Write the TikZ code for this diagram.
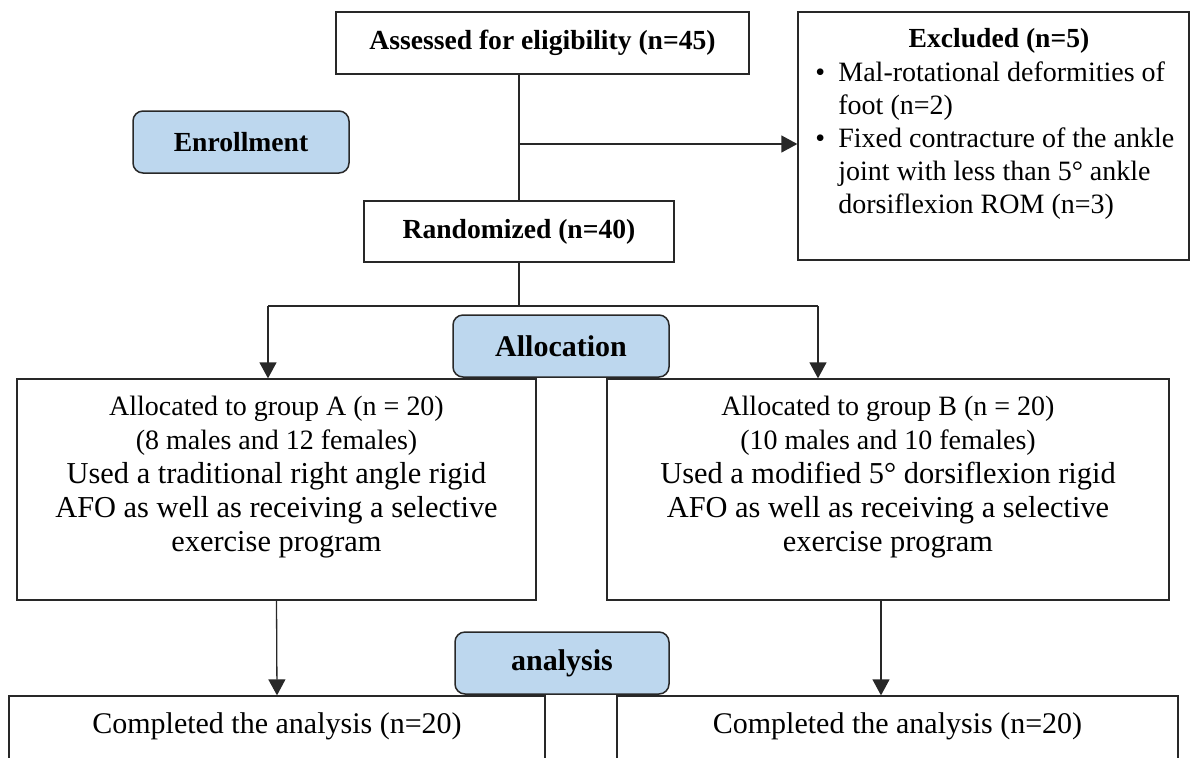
\documentclass[tikz,border=0pt]{standalone}
\usepackage{fontspec}
\setmainfont{Liberation Serif}
\usetikzlibrary{arrows.meta}
\definecolor{phaseblue}{RGB}{189,215,238}
\definecolor{edgegray}{RGB}{40,40,40}
\newcommand{\bigln}{\fontsize{15.2}{17}\selectfont}
\begin{document}
\begin{tikzpicture}[x=0.5pt,y=-0.5pt,
  box/.style={draw=edgegray,line width=0.65pt,inner sep=0pt},
  phase/.style={draw=edgegray,fill=phaseblue,rounded corners=5pt,line width=0.75pt,inner sep=0pt,font=\fontsize{15}{18}\selectfont\bfseries},
  hdr/.style={font=\fontsize{13.8}{17}\selectfont\bfseries},
  body/.style={font=\fontsize{14}{17}\selectfont,inner sep=0pt},
  conn/.style={draw=edgegray,line width=0.65pt},
  arr/.style={conn,-{Triangle[length=8pt,width=8.5pt]}}]
\useasboundingbox (0,0) rectangle (1190,757);
\clip (0,0) rectangle (1190,757);

% boxes
\node[box,hdr,minimum width=206.5pt,minimum height=31pt] (assess) at (542.5,43) {Assessed for eligibility (n=45)};
\node[box,minimum width=195.5pt,minimum height=124pt] (excl) at (993.5,136) {};
\node[hdr,anchor=base,inner sep=0pt] (exclt) at (999,47) {Excluded (n=5)};
\node[body,anchor=base west] (excll) at (815,81) {\fontsize{14}{16.5}\selectfont\begin{tabular}[t]{@{}l@{}l@{}}\makebox[11.5pt][l]{\textbullet} & Mal-rotational deformities of\\ & foot (n=2)\\ \textbullet & Fixed contracture of the ankle\\ & joint with less than 5° ankle\\ & dorsiflexion ROM (n=3)\end{tabular}};

\node[phase,font=\fontsize{13.8}{17}\selectfont\bfseries,minimum width=108pt,minimum height=31pt] (enroll) at (241,142) {Enrollment};
\node[box,hdr,minimum width=155pt,minimum height=30.5pt] (rand) at (519,231.5) {Randomized (n=40)};
\node[phase,minimum width=108pt,minimum height=31pt] (alloc) at (561,346) {Allocation};

\node[box,minimum width=259.5pt,minimum height=110.5pt] (gA) at (276.5,489.5) {};
\node[body,anchor=base] (gAt) at (276.5,415) {\begin{tabular}[t]{@{}c@{}}Allocated to group A (n = 20)\\(8 males and 12 females)\\\bigln Used a traditional right angle rigid\\\bigln AFO as well as receiving a selective\\\bigln exercise program\end{tabular}};
\node[box,minimum width=281pt,minimum height=110.5pt] (gB) at (888,489.5) {};
\node[body,anchor=base] (gBt) at (888,415) {\begin{tabular}[t]{@{}c@{}}Allocated to group B (n = 20)\\(10 males and 10 females)\\\bigln Used a modified 5° dorsiflexion rigid\\\bigln AFO as well as receiving a selective\\\bigln exercise program\end{tabular}};

\node[phase,minimum width=107pt,minimum height=31pt] (anl) at (562,663) {analysis};
\node[box,minimum width=268pt,minimum height=52pt] (cA) at (277,748) {};
\node[font=\fontsize{15}{18}\selectfont,anchor=base,inner sep=0pt] (cAt) at (277,733) {Completed the analysis (n=20)};
\node[box,minimum width=280.5pt,minimum height=52pt] (cB) at (897.5,748) {};
\node[font=\fontsize{15}{18}\selectfont,anchor=base,inner sep=0pt] (cBt) at (897.5,733) {Completed the analysis (n=20)};

% connectors
\coordinate (branch) at (519,144);
\coordinate (split) at (519,306);
\coordinate (ja) at (268,306);
\coordinate (jb) at (818,306);
\draw[conn] (assess.south -| rand.north) -- (rand.north);
\draw[arr] (branch) -- (branch -| excl.west);
\draw[conn] (rand.south) -- (split);
\draw[conn] (ja) -- (jb);
\draw[arr] (ja) -- (ja |- gA.north);
\draw[arr] (jb) -- (jb |- gB.north);
\draw[arr] (gA.south) -- (cA.north);
\draw[arr] ([xshift=-3.5pt]gB.south) -- ([xshift=-3.5pt]gB.south |- cB.north);
\end{tikzpicture}
\end{document}
